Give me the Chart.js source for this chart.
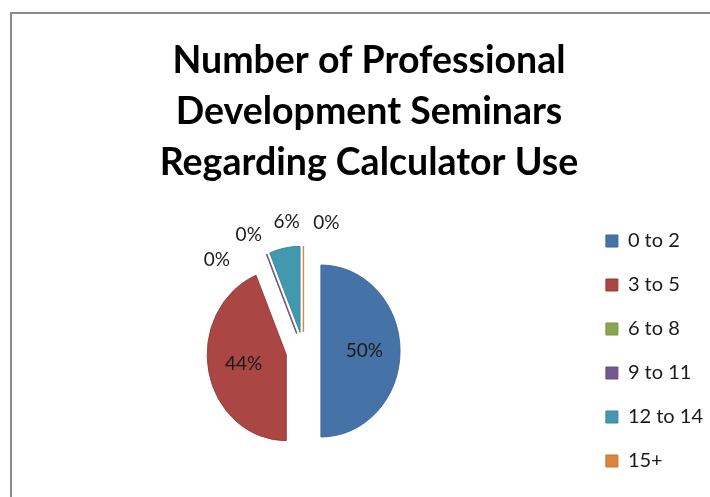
<!DOCTYPE html>
<html>
<head>
<meta charset="utf-8">
<script src="https://cdn.jsdelivr.net/npm/chart.js@4.4.1/dist/chart.umd.min.js"></script>
<style>
  html, body { margin: 0; padding: 0; background: #ffffff; overflow: hidden; width: 710px; height: 497px; }
  #frame { position: absolute; left: 10px; top: 12px; width: 714px; height: 500px; border: 2px solid #8a8a8a; background: #fff; }
  #frame canvas { display: block; }
</style>
</head>
<body>
<div id="frame"><canvas id="c" width="714" height="500"></canvas></div>
<script>
// ---- data ----
const titleLines = ["Number of Professional", "Development Seminars", "Regarding Calculator Use"];
const categories = ["0 to 2", "3 to 5", "6 to 8", "9 to 11", "12 to 14", "15+"];
const counts = [8, 7, 0, 0, 1, 0];
const sliceColors = ["#4572A7", "#AA4643", "#89A54E", "#71588F", "#4198AF", "#DB843D"];
const sliceBorders = ["#3c6696", "#983d3a", "#7a9545", "#654e80", "#3a889c", "#c47634"];

const FONT = "Lato, 'Open Sans', sans-serif";
const EXPLODE = 19;     // slice explosion distance
const SX = 0.92;        // horizontal squash of the pie (reference is slightly oval)

const total = counts.reduce((a, b) => a + b, 0);
const pct = counts.map(v => Math.round(v / total * 100) + "%");

function squash(ctx, arc) {
  ctx.translate(arc.x, arc.y);
  ctx.scale(SX, 1);
  ctx.translate(-arc.x, -arc.y);
}

const explodePlugin = {
  id: 'explode',
  beforeDatasetDraw(chart, args) {
    const ctx = chart.ctx;
    args.meta.data.forEach((arc, i) => {
      const half = (arc.startAngle + arc.endAngle) / 2;
      ctx.save();
      squash(ctx, arc);
      ctx.translate(Math.cos(half) * EXPLODE, Math.sin(half) * EXPLODE);
      if (arc.circumference > 0) {
        arc.draw(ctx);
      } else {
        ctx.strokeStyle = sliceColors[i];
        ctx.lineWidth = 1.5;
        ctx.beginPath();
        ctx.moveTo(arc.x, arc.y);
        ctx.lineTo(arc.x + Math.cos(arc.startAngle) * arc.outerRadius, arc.y + Math.sin(arc.startAngle) * arc.outerRadius);
        ctx.stroke();
      }
      ctx.restore();
    });
    return false;
  },
  afterDatasetsDraw(chart) {
    const ctx = chart.ctx;
    const arcs = chart.getDatasetMeta(0).data;
    ctx.save();
    ctx.font = "19px " + FONT;
    ctx.fillStyle = "#1a1a1a";
    ctx.textAlign = "center";
    ctx.textBaseline = "middle";
    const put = (arc, a, r, text) => {
      const x = arc.x + Math.cos(a) * r * SX;
      const y = arc.y + Math.sin(a) * r;
      ctx.fillText(text, x, y);
    };
    const outside = [];
    arcs.forEach((arc, i) => {
      const half = (arc.startAngle + arc.endAngle) / 2;
      if (counts[i] / total >= 0.1) {
        put(arc, half, EXPLODE + arc.outerRadius * 0.55, pct[i]);
      } else {
        outside.push({ i, a: half, arc });
      }
    });
    if (outside.length) {
      const sep = 19 * Math.PI / 180;
      const mean = outside.reduce((s, o) => s + o.a, 0) / outside.length - 3.5 * Math.PI / 180;
      const start = mean - sep * (outside.length - 1) / 2;
      outside.forEach((o, k) => {
        put(o.arc, start + k * sep, o.arc.outerRadius * 1.52, pct[o.i]);
      });
    }
    ctx.restore();
  }
};

new Chart(document.getElementById('c'), {
  type: 'pie',
  data: {
    labels: categories,
    datasets: [{
      data: counts,
      backgroundColor: sliceColors,
      borderColor: sliceBorders,
      borderWidth: 1,
      radius: 86
    }]
  },
  options: {
    responsive: false,
    animation: false,
    layout: { padding: { left: 13, right: 13, top: 0, bottom: 0 } },
    plugins: {
      title: {
        display: true,
        text: titleLines,
        color: "#000000",
        font: { family: FONT, size: 37.5, weight: 'bold', lineHeight: 51 / 37.5 },
        padding: { top: 21, bottom: 0 }
      },
      legend: {
        position: 'right',
        align: 'center',
        fullSize: false,
        labels: {
          boxWidth: 12,
          boxHeight: 12,
          padding: 24,
          color: "#1a1a1a",
          font: { family: FONT, size: 20 }
        }
      },
      tooltip: { enabled: false }
    }
  },
  plugins: [explodePlugin]
});
</script>
</body>
</html>
